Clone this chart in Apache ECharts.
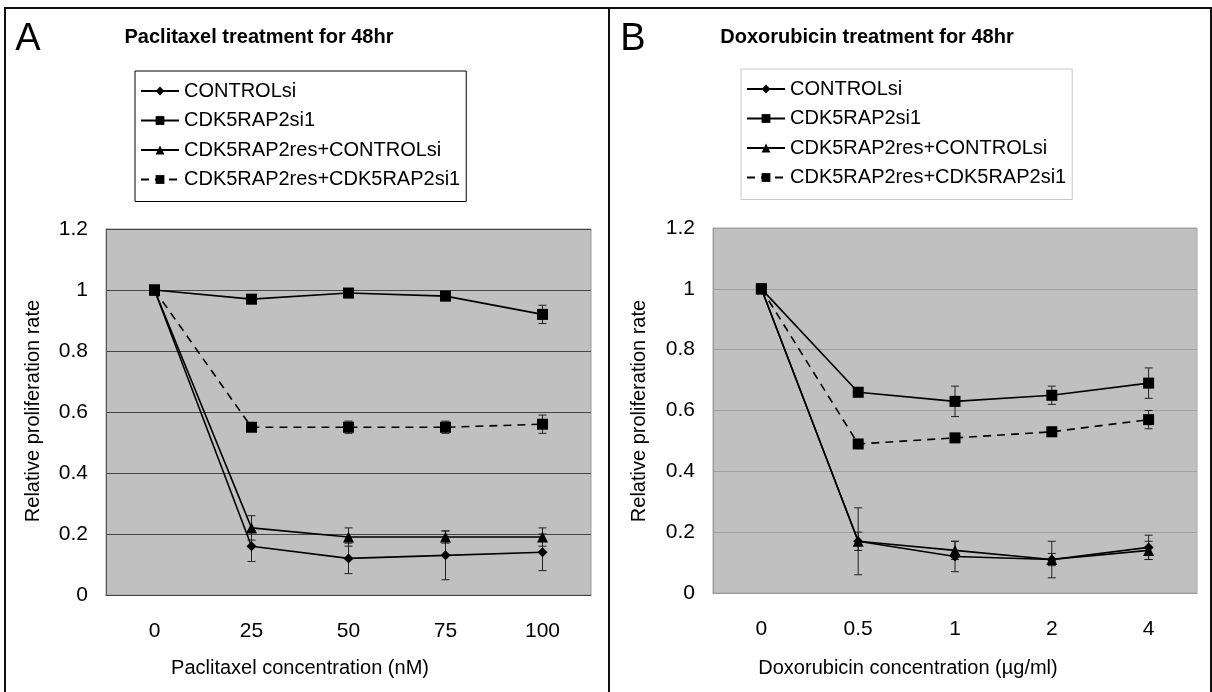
<!DOCTYPE html>
<html><head><meta charset="utf-8">
<script src="https://cdn.jsdelivr.net/npm/echarts@6/dist/echarts.min.js"></script>
<style>html,body{margin:0;padding:0;background:#fff}#c{width:1212px;height:692px}</style>
</head><body><div id="c"></div>
<script>
const seriesNames = ['CONTROLsi','CDK5RAP2si1','CDK5RAP2res+CONTROLsi','CDK5RAP2res+CDK5RAP2si1'];
const catsA = ['0','25','50','75','100'];
const catsB = ['0','0.5','1','2','4'];
const yTicks = [0,0.2,0.4,0.6,0.8,1,1.2];

// Panel A (Paclitaxel)
const controlA = [1, 0.16, 0.12, 0.13, 0.14];
const controlAErr = [0, 0.05, 0.05, 0.08, 0.06];
const si1A = [1, 0.97, 0.99, 0.98, 0.92];
const si1AErr = [0, 0.015, 0.015, 0.015, 0.03];
const resCtrlA = [1, 0.22, 0.19, 0.19, 0.19];
const resCtrlAErr = [0, 0.04, 0.03, 0.02, 0.03];
const resSi1A = [1, 0.55, 0.55, 0.55, 0.56];
const resSi1AErr = [0, 0, 0.02, 0.02, 0.03];

// Panel B (Doxorubicin)
const controlB = [1, 0.17, 0.12, 0.11, 0.15];
const controlBErr = [0, 0.11, 0.05, 0.06, 0.04];
const si1B = [1, 0.66, 0.63, 0.65, 0.69];
const si1BErr = [0, 0.015, 0.05, 0.03, 0.05];
const resCtrlB = [1, 0.17, 0.14, 0.11, 0.14];
const resCtrlBErr = [0, 0.03, 0.03, 0.02, 0.03];
const resSi1B = [1, 0.49, 0.51, 0.53, 0.57];
const resSi1BErr = [0, 0, 0, 0.015, 0.03];

const FONT = '"Liberation Sans", Arial, sans-serif';
const chart = echarts.init(document.getElementById('c'));

const symbols = ['diamond','rect','triangle','rect'];
const symSizes = [10, 11, 11, 11];
const dashes = ['solid','solid','solid',[8,6]];

function lineSeries(idx, data, gi) {
  return {
    type: 'line', name: seriesNames[idx], xAxisIndex: gi, yAxisIndex: gi,
    data: data, symbol: symbols[idx], symbolSize: symSizes[idx], showSymbol: true,
    lineStyle: {color: '#000', width: 1.6, type: dashes[idx]},
    itemStyle: {color: '#000'}, z: 3 + idx, animation: false
  };
}
function errSeries(vals, errs, gi) {
  return {
    type: 'custom', xAxisIndex: gi, yAxisIndex: gi, z: 2, animation: false, silent: true,
    data: vals.map((v, i) => [i, v, errs[i]]),
    renderItem: function (params, api) {
      const i = api.value(0), v = api.value(1), e = api.value(2);
      if (!e) return null;
      const t = api.coord([i, v + e]), b = api.coord([i, v - e]);
      const st = {stroke: '#222', lineWidth: 1};
      return {type: 'group', children: [
        {type: 'line', shape: {x1: t[0], y1: t[1], x2: b[0], y2: b[1]}, style: st},
        {type: 'line', shape: {x1: t[0]-4, y1: t[1], x2: t[0]+4, y2: t[1]}, style: st},
        {type: 'line', shape: {x1: b[0]-4, y1: b[1], x2: b[0]+4, y2: b[1]}, style: st}
      ]};
    }
  };
}
function xAxis(cats, gi, lineColor) {
  return {
    type: 'category', gridIndex: gi, data: cats, boundaryGap: true,
    axisLine: {lineStyle: {color: lineColor, width: 1}},
    axisTick: {inside: true, length: 5, lineStyle: {color: lineColor}},
    axisLabel: {fontSize: 21, color: '#000', fontFamily: FONT, margin: 26}
  };
}
function yAxis(gi, gridColor, lineColor) {
  return {
    type: 'value', gridIndex: gi, min: 0, max: 1.2, interval: 0.2,
    axisLine: {show: true, lineStyle: {color: lineColor}},
    axisTick: {show: false},
    splitLine: {lineStyle: {color: gridColor, width: 1}},
    axisLabel: {fontSize: 21, color: '#000', fontFamily: FONT, margin: 18,
      formatter: v => String(Math.round(v * 10) / 10)}
  };
}
function legend(left, top, border) {
  return {
    data: seriesNames, orient: 'vertical', left: left, top: top,
    itemWidth: 38, itemHeight: 11, itemGap: 7.5, padding: [9, 6, 11, 5],
    borderColor: border, borderWidth: 1, backgroundColor: '#fff',
    selectedMode: false,
    textStyle: {fontSize: 20, lineHeight: 22, color: '#000', fontFamily: FONT}
  };
}
function text(x, y, s, size, opts, weight) {
  return Object.assign({type: 'text', x: x, y: y, silent: true,
    style: {text: s, fill: '#000', font: (weight ? weight + ' ' : '') + size + 'px ' + FONT, textAlign: 'center', textVerticalAlign: 'middle'}}, opts || {});
}

const option = {
  animation: false,
  backgroundColor: '#fff',
  grid: [
    {left: 106, top: 229, width: 485, height: 366, show: true, backgroundColor: '#c0c0c0', borderColor: '#9a9a9a', borderWidth: 1},
    {left: 713, top: 228, width: 484, height: 365, show: true, backgroundColor: '#c0c0c0', borderColor: '#a8a8a8', borderWidth: 1}
  ],
  xAxis: [xAxis(catsA, 0, '#444'), xAxis(catsB, 1, '#999')],
  yAxis: [yAxis(0, '#444', '#555'), yAxis(1, '#9e9e9e', '#999')],
  legend: [legend(135, 71, '#000'), legend(741, 69, '#c8c8c8')],
  series: [
    errSeries(controlA, controlAErr, 0), errSeries(si1A, si1AErr, 0),
    errSeries(resCtrlA, resCtrlAErr, 0), errSeries(resSi1A, resSi1AErr, 0),
    lineSeries(0, controlA, 0), lineSeries(2, resCtrlA, 0), lineSeries(3, resSi1A, 0), lineSeries(1, si1A, 0),
    errSeries(controlB, controlBErr, 1), errSeries(si1B, si1BErr, 1),
    errSeries(resCtrlB, resCtrlBErr, 1), errSeries(resSi1B, resSi1BErr, 1),
    lineSeries(0, controlB, 1), lineSeries(2, resCtrlB, 1), lineSeries(3, resSi1B, 1), lineSeries(1, si1B, 1)
  ],
  graphic: [
    {type: 'rect', silent: true, shape: {x: 5, y: 8, width: 1206, height: 685}, style: {fill: 'none', stroke: '#111', lineWidth: 2}},
    {type: 'line', silent: true, shape: {x1: 609, y1: 8, x2: 609, y2: 692}, style: {stroke: '#111', lineWidth: 2}},
    text(28, 40, 'A', 38),
    text(633, 40, 'B', 38),
    text(259, 37, 'Paclitaxel treatment for 48hr', 20, null, 'bold'),
    text(867, 37, 'Doxorubicin treatment for 48hr', 20, null, 'bold'),
    text(300, 668, 'Paclitaxel concentration (nM)', 20),
    text(908, 668, 'Doxorubicin concentration (\u00b5g/ml)', 20),
    text(33, 411, 'Relative proliferation rate', 20, {rotation: Math.PI / 2}),
    text(639, 411, 'Relative proliferation rate', 20, {rotation: Math.PI / 2})
  ]
};
chart.setOption(option);
</script></body></html>
